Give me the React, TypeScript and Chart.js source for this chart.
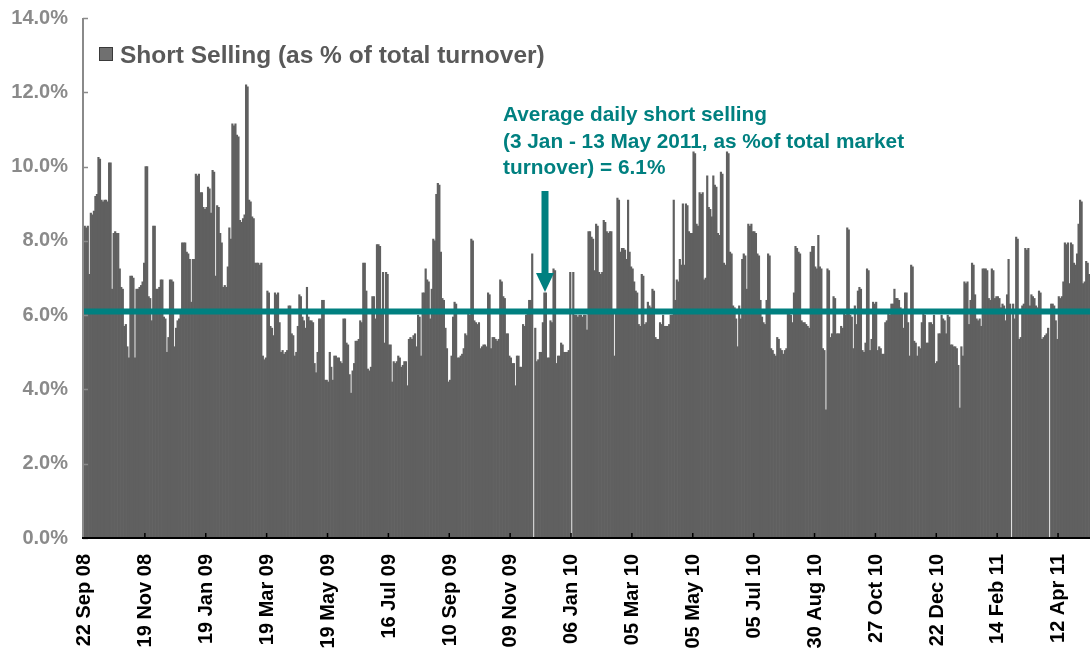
import React, { useEffect, useRef } from 'react';
import { Chart, registerables } from 'chart.js';

Chart.register(...registerables);

// ---- Data -------------------------------------------------------------
const TICK_LABELS = [
  '22 Sep 08', '19 Nov 08', '19 Jan 09', '19 Mar 09', '19 May 09', '16 Jul 09',
  '10 Sep 09', '09 Nov 09', '06 Jan 10', '05 Mar 10', '05 May 10', '05 Jul 10',
  '30 Aug 10', '27 Oct 10', '22 Dec 10', '14 Feb 11', '12 Apr 11',
];
const LABEL_STEP = 40; // trading days between axis labels

const SERIES_NAME = 'Short Selling (as % of total turnover)';
const AVERAGE = 6.1;
const ANNOTATION_LINES = [
  'Average daily short selling',
  '(3 Jan - 13 May 2011, as %of total market',
  'turnover) = 6.1%',
];

// daily short selling, % of turnover (Sep 2008 - May 2011)
const SEG_1 = [8.4, 8.35, 8.4, 7.1, 8.75, 8.7, 8.8, 9.2, 9.25, 10.25, 10.2, 9.1, 9.05, 9.1, 9.1, 9.05, 10.1, 10.1, 6.7, 8.2, 8.25, 8.2, 8.2, 7.25, 6.75, 6.7, 5.7, 5.75, 5.15, 4.85, 7.05, 7.05, 7.0, 4.85, 6.7, 6.7, 6.75, 6.8, 6.9, 7.4, 10.0, 10.0, 6.5, 6.45, 5.85, 8.4, 8.4, 6.7, 6.7, 6.75, 6.95, 6.95, 5.95, 5.9, 5.0, 5.4, 6.95, 6.95, 6.9, 5.15, 5.65, 5.85, 5.9, 6.1, 7.95, 7.95];
const SEG_2 = [7.95, 7.7, 7.65, 7.5, 6.35, 7.5, 7.5, 9.8, 9.75, 9.8, 9.3, 9.3, 8.9, 8.85, 8.9, 9.45, 9.4, 8.75, 9.9, 9.85, 7.05, 8.95, 8.9, 8.2, 7.95, 6.75, 6.8, 6.75, 7.3, 8.35, 8.05, 11.15, 11.1, 11.15, 10.85, 10.8, 8.55, 8.5, 8.6, 8.7, 12.2, 12.15, 9.1, 9.05, 8.65, 8.6, 7.4, 7.4, 7.4, 7.35, 7.4, 4.9, 4.8, 4.85, 6.65, 6.6, 5.7, 5.65, 5.45, 6.6, 6.55, 6.6, 5.8, 5.0, 5.05];
const SEG_3 = [4.95, 5.0, 5.05, 6.25, 6.25, 5.5, 5.45, 4.9, 5.0, 5.7, 6.55, 6.5, 5.95, 5.85, 5.65, 6.75, 5.95, 5.85, 5.85, 5.8, 4.7, 4.45, 5.0, 5.9, 5.9, 6.4, 6.4, 4.25, 4.25, 4.2, 5.0, 4.6, 4.25, 4.9, 4.9, 4.85, 4.85, 4.75, 4.7, 5.9, 5.9, 5.25, 5.2, 4.4, 3.9, 4.5, 4.7, 5.3, 5.3, 5.35, 5.85, 5.8, 7.4, 7.4, 6.65, 4.55, 4.5, 4.6, 6.5, 6.5, 5.9, 7.9, 7.9, 7.85, 6.15, 7.15];
const SEG_4 = [5.25, 7.15, 7.1, 5.2, 5.2, 4.2, 4.75, 4.7, 4.75, 4.9, 4.85, 4.6, 4.65, 4.75, 4.75, 4.1, 5.35, 5.4, 5.35, 5.45, 5.5, 5.15, 6.0, 5.95, 4.9, 6.6, 6.6, 7.25, 6.95, 6.9, 5.9, 6.7, 8.05, 8.0, 9.25, 9.55, 9.5, 7.7, 6.45, 6.4, 5.65, 5.1, 4.2, 4.25, 4.9, 5.95, 6.35, 6.3, 4.85, 4.85, 4.9, 4.95, 5.1, 5.5, 5.45, 6.05, 6.0, 8.05, 8.0, 5.85, 5.8, 5.75, 5.8, 5.1, 5.15, 5.2];
const SEG_5 = [5.2, 5.15, 6.6, 6.55, 5.1, 5.4, 5.4, 5.35, 5.3, 5.35, 6.95, 6.9, 6.5, 6.45, 5.5, 5.5, 4.9, 4.85, 4.7, 4.7, 4.1, 4.9, 4.9, 4.6, 4.6, 5.75, 5.7, 6.0, 6.05, 6.4, 6.4, 7.65, null, 5.65, 4.75, 4.8, 5.0, 5.0, 5.8, 6.6, 6.6, 4.85, 4.85, 5.85, 5.8, 7.25, 7.2, 4.7, 4.9, 4.9, 5.25, 5.2, 5.0, 5.0, 5.0, 5.05, 7.15, null, 7.15, 6.0, 6.0, 5.95, 6.0, 6.0, 5.95];
const SEG_6 = [6.0, 6.0, 5.6, 8.25, 8.25, 8.1, 8.05, 7.2, 8.45, 8.4, 7.15, 7.1, 7.15, 8.55, 8.5, 8.25, 8.2, 8.25, 8.25, 6.15, 4.9, 6.1, 9.15, 9.1, 7.7, 7.8, 7.8, 7.75, 7.5, 9.1, 7.7, 7.3, 7.25, 6.9, 6.65, 6.6, 5.75, 5.7, 7.1, 7.05, 5.75, 5.8, 6.35, 6.25, 6.2, 6.7, 6.65, 5.4, 5.35, 5.35, 5.8, 5.75, 6.0, 5.7, 5.7, 5.7, 5.75, 6.0, 6.0, 9.1, 6.4, 6.95, 6.9, 7.5, 7.35, 9.0];
const SEG_7 = [7.35, 9.0, 8.95, 8.25, 8.2, 8.2, 10.4, 10.35, 8.45, 8.4, 9.3, 9.25, 9.3, 6.95, 7.0, 9.75, 8.9, 8.85, 8.65, 9.75, 9.5, 9.45, 8.2, 8.15, 9.85, 9.8, 7.4, 7.35, 10.4, 10.35, 7.7, 7.65, 6.25, 6.2, 5.9, 5.15, 6.25, 5.9, 7.5, 7.65, 7.6, 6.7, 8.45, 8.4, 8.45, 8.25, 8.25, 8.2, 7.65, 7.6, 6.4, 5.95, 5.8, 5.75, 6.4, 7.65, 7.6, 5.1, 5.05, 4.95, 4.9, 5.4, 5.35, 5.1, 5.05, 4.95];
const SEG_8 = [5.05, 5.1, 6.05, 6.05, 6.0, 5.8, 6.6, 7.85, 7.8, 7.7, 7.65, 5.85, 5.8, 5.8, 5.75, 5.7, 5.65, 7.7, 7.85, 7.85, 7.3, 7.25, 8.15, 7.3, 7.25, 5.1, 5.05, 3.45, 7.25, 7.2, 5.4, 5.5, 6.5, 6.45, 5.5, 5.5, 5.5, 5.7, 5.65, 6.05, 6.0, 8.35, 8.3, 6.0, 5.95, 5.1, 6.25, 5.75, 6.65, 6.75, 6.7, 5.05, 5.0, 5.25, 7.25, 7.2, 5.05, 5.35, 6.35, 6.3, 6.35, 5.05, 5.15, 5.1, 4.95];
const SEG_9 = [4.95, 5.8, 5.85, 6.05, 6.0, 6.3, 6.3, 6.7, 6.45, 6.45, 6.4, 6.2, 6.15, 5.65, 6.6, 6.6, 5.8, 4.9, 7.35, 7.3, 5.3, 5.25, 4.9, 5.15, 5.1, 5.8, 6.05, 6.0, 5.25, 5.25, 5.8, 5.8, 5.75, 6.0, 4.7, 4.75, 5.5, 5.5, 6.0, 5.9, 5.85, 5.5, 6.0, 5.95, 5.2, 5.2, 5.15, 5.15, 5.1, 4.65, 3.5, 5.15, 4.9, 6.9, 6.85, 6.9, 5.75, 6.4, 7.4, 7.35, 6.55, 5.9, 5.85, 5.9, 5.7, 7.25];
const SEG_10 = [7.25, 7.25, 7.2, 6.45, 6.4, 7.25, 7.2, 6.45, 6.5, 6.5, 6.45, 6.2, 6.3, 6.25, 5.85, 6.55, 7.5, 6.3, null, 6.3, 5.9, 8.1, 8.05, 5.35, 5.4, 6.25, 6.3, 7.8, 7.75, 7.8, 6.25, 6.55, 6.5, 6.45, 6.25, 6.2, 6.65, 6.6, 5.35, 5.4, 5.45, 5.5, 5.65, null, 6.3, 6.3, 6.25, 5.85, 5.35, 6.5, 6.45, 6.5, 6.9, 7.95, 7.9, 7.95, 6.85, 7.95, 7.9, 7.4, 7.35, 7.65, 8.45, 9.1, 9.05, 6.85, 6.9, 7.45, 7.4, 7.1];

const SHORT_SELLING: (number | null)[] = [
  ...SEG_1, ...SEG_2, ...SEG_3, ...SEG_4, ...SEG_5,
  ...SEG_6, ...SEG_7, ...SEG_8, ...SEG_9, ...SEG_10,
];
const CATEGORIES = SHORT_SELLING.map((_, i) =>
  i % LABEL_STEP === 0 ? TICK_LABELS[i / LABEL_STEP] ?? '' : ''
);

// ---- Styles -----------------------------------------------------------
const FONT = "'Liberation Sans', Arial, Helvetica, sans-serif";
const TEAL = '#008080';
const BAR = '#606060';

export default function App() {
  const ref = useRef<HTMLCanvasElement>(null);

  useEffect(() => {
    const canvas = ref.current;
    if (!canvas) return;

    const overlay = {
      id: 'overlay',
      afterDatasetsDraw(chart: any) {
        const { ctx, chartArea: ca, scales } = chart;
        const xs = scales.x;
        const ys = scales.y;
        ctx.save();

        // average line
        const ay = ys.getPixelForValue(AVERAGE);
        ctx.strokeStyle = TEAL;
        ctx.lineWidth = 6;
        ctx.beginPath();
        ctx.moveTo(ca.left, ay);
        ctx.lineTo(ca.right, ay);
        ctx.stroke();

        // y axis line + inward ticks
        ctx.strokeStyle = '#8a8a8a';
        ctx.lineWidth = 2;
        ctx.beginPath();
        ctx.moveTo(ca.left - 1, ca.top);
        ctx.lineTo(ca.left - 1, ca.bottom);
        ctx.stroke();
        ctx.lineWidth = 1.5;
        ys.ticks.forEach((t: any) => {
          const py = Math.round(ys.getPixelForValue(t.value)) + 0.5;
          ctx.beginPath();
          ctx.moveTo(ca.left - 1, py);
          ctx.lineTo(ca.left + 4, py);
          ctx.stroke();
        });

        // x axis line + inward ticks
        ctx.strokeStyle = '#000';
        ctx.lineWidth = 2;
        ctx.beginPath();
        ctx.moveTo(ca.left - 2, ca.bottom);
        ctx.lineTo(ca.right, ca.bottom);
        ctx.stroke();
        ctx.lineWidth = 1.5;
        const half = (xs.getPixelForValue(1) - xs.getPixelForValue(0)) / 2;
        CATEGORIES.forEach((c, i) => {
          if (!c || i === 0) return;
          const px = xs.getPixelForValue(i) - half;
          ctx.beginPath();
          ctx.moveTo(px, ca.bottom);
          ctx.lineTo(px, ca.bottom - 5);
          ctx.stroke();
        });

        // legend
        ctx.fillStyle = '#707070';
        ctx.fillRect(99, 47, 14, 14);
        ctx.strokeStyle = '#3a3a3a';
        ctx.lineWidth = 1;
        ctx.strokeRect(99.5, 47.5, 13, 13);
        ctx.fillStyle = '#595959';
        ctx.font = `bold 24.5px ${FONT}`;
        ctx.textBaseline = 'alphabetic';
        ctx.textAlign = 'left';
        ctx.fillText(chart.data.datasets[0].label, 120, 63);

        // annotation text
        ctx.fillStyle = TEAL;
        ctx.font = `bold 20.8px ${FONT}`;
        ANNOTATION_LINES.forEach((line, i) => {
          ctx.fillText(line, 503, 121 + i * 26.5);
        });

        // arrow
        const ax = 545;
        ctx.fillRect(ax - 3.5, 191, 7, 83);
        ctx.beginPath();
        ctx.moveTo(ax - 9, 273);
        ctx.lineTo(ax + 9, 273);
        ctx.lineTo(ax, 292);
        ctx.closePath();
        ctx.fill();

        ctx.restore();
      },
    };

    const chart = new Chart(canvas, {
      type: 'bar',
      data: {
        labels: CATEGORIES,
        datasets: [
          {
            label: SERIES_NAME,
            data: SHORT_SELLING as any,
            backgroundColor: BAR,
            borderWidth: 0,
            barPercentage: 1,
            categoryPercentage: 1,
          },
        ],
      },
      options: {
        responsive: false,
        animation: false,
        devicePixelRatio: 1,
        layout: { padding: { top: 18, right: 1, left: 0, bottom: 0 } },
        plugins: { legend: { display: false }, tooltip: { enabled: false } },
        scales: {
          x: {
            type: 'category',
            offset: true,
            grid: { display: false, drawTicks: false },
            border: { display: false },
            ticks: {
              autoSkip: false,
              minRotation: 90,
              maxRotation: 90,
              padding: 16,
              color: '#000',
              font: { family: FONT, weight: 'bold', size: 20 },
              callback: (_v: any, i: number) => CATEGORIES[i],
            },
            afterFit: (s: any) => {
              s.height = 115;
              s.paddingLeft = 0;
              s.paddingRight = 0;
            },
          },
          y: {
            min: 0,
            max: 14,
            grid: { display: false, drawTicks: false },
            border: { display: false },
            ticks: {
              stepSize: 2,
              padding: 16,
              color: '#8a8a8a',
              font: { family: FONT, weight: 'bold', size: 20 },
              callback: (v: any) => `${Number(v).toFixed(1)}%`,
            },
            afterFit: (s: any) => {
              s.width = 84;
              s.paddingTop = 0;
              s.paddingBottom = 0;
            },
          },
        },
      },
      plugins: [overlay],
    });

    return () => chart.destroy();
  }, []);

  return (
    <div style={{ position: 'absolute', left: 0, top: 0, width: 1091, height: 653, background: '#fff' }}>
      <canvas ref={ref} width={1091} height={653} />
    </div>
  );
}
